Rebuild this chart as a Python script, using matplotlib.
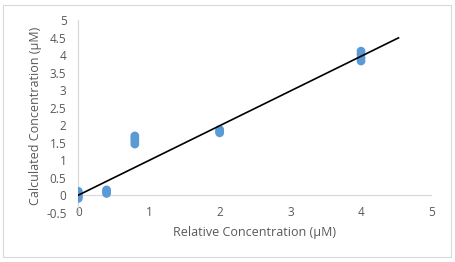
import matplotlib
matplotlib.use("Agg")
import matplotlib.pyplot as plt
from matplotlib.patches import Rectangle

plt.rcParams['font.family'] = ['Open Sans', 'DejaVu Sans']

# data
x_vals = [0, 0, 0, 0, 0,
          0.4, 0.4, 0.4,
          0.8, 0.8, 0.8, 0.8,
          2, 2, 2,
          4, 4, 4, 4]
y_vals = [-0.09, -0.04, 0.0, 0.05, 0.11,
          0.05, 0.1, 0.15,
          1.46, 1.55, 1.62, 1.69,
          1.78, 1.82, 1.87,
          3.83, 3.92, 4.02, 4.11]
line_x = [0, 4.53]
line_y = [0.0, 4.49]
x_ticks = [0, 1, 2, 3, 4, 5]
y_ticks = [-0.5, 0, 0.5, 1, 1.5, 2, 2.5, 3, 3.5, 4, 4.5, 5]
x_label = "Relative Concentration (µM)"
y_label = "Calculated Concentration (µM)"

W, H = 456, 262
fig = plt.figure(figsize=(W / 100, H / 100), dpi=100)
fig.patch.set_facecolor('white')
fig.patches.append(Rectangle((3 / W, 5 / H), 448 / W, 252 / H, transform=fig.transFigure,
                             fill=False, edgecolor='#D9D9D9', linewidth=0.8))

ax = fig.add_axes([78.3 / W, 1 - 212.7 / H, (431.7 - 78.3) / W, (212.7 - 20) / H])
ax.set_xlim(0, 5)
ax.set_ylim(-0.5, 5)

ax.axhline(0, color='#D9D9D9', linewidth=0.9, zorder=1)
ax.scatter(x_vals, y_vals, s=40, color='#5B9BD5', edgecolors='none', zorder=3)
ax.plot(line_x, line_y, color='black', linewidth=1.2, zorder=4)

for s in ['top', 'right', 'bottom']:
    ax.spines[s].set_visible(False)
ax.spines['left'].set_color('#D9D9D9')
ax.spines['left'].set_linewidth(0.9)

tc = '#595959'
ax.set_xticks(x_ticks)
ax.set_xticklabels([str(v) for v in x_ticks])
ax.set_yticks(y_ticks)
ax.set_yticklabels([('%g' % v) for v in y_ticks])
ax.tick_params(axis='both', length=0, labelsize=8.5, colors=tc)
ax.tick_params(axis='x', pad=-4.5)
ax.tick_params(axis='y', pad=8.5)

ax.set_xlabel(x_label, fontsize=9, color=tc, labelpad=5)
ax.set_ylabel(y_label, fontsize=9, color=tc, labelpad=3)

fig.savefig('out.png', dpi=100)
